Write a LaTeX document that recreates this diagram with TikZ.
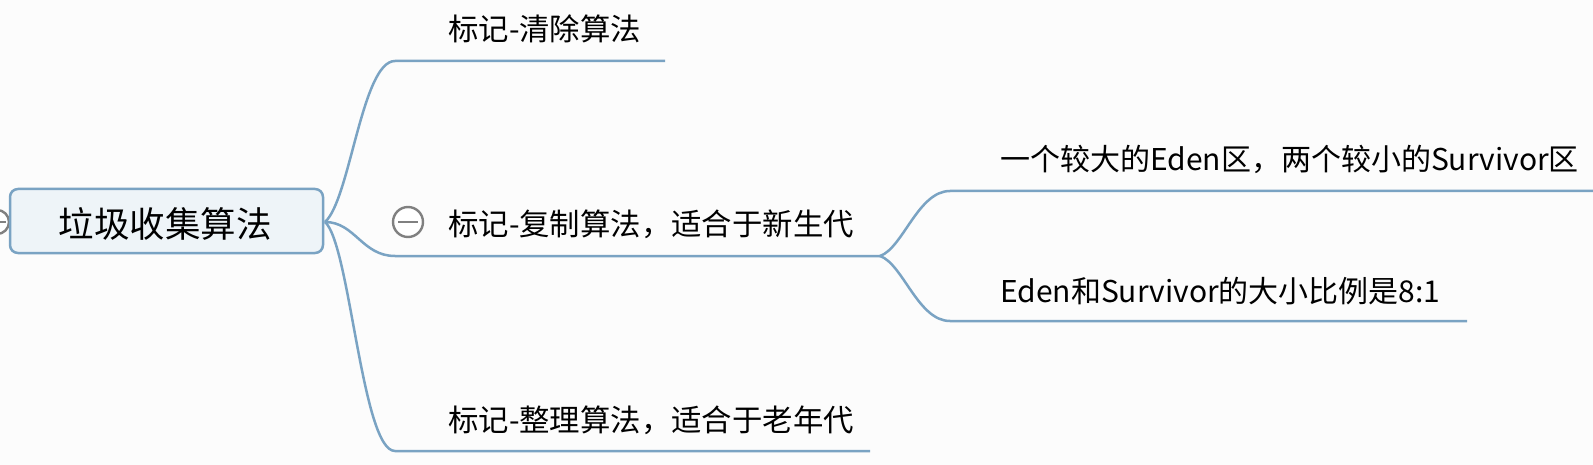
\documentclass[tikz,border=0pt]{standalone}
\usepackage{fontspec}
\setmainfont{Noto Sans CJK SC}
\begin{document}
\begin{tikzpicture}[x=1pt,y=-1pt,
  conn/.style={draw=lineblue,line width=2.5pt},
  branchtext/.style={anchor=base west,inner sep=0pt,font=\fontsize{30.4}{34}\selectfont,text=black},
  subtext/.style={anchor=base west,inner sep=0pt,font=\fontsize{30}{34}\selectfont,text=black},
  collapse/.style={draw=grey80,line width=2.4pt,fill=white}]
\definecolor{lineblue}{HTML}{7AA3C3}
\definecolor{boxfill}{HTML}{EEF4F8}
\definecolor{grey80}{HTML}{808080}
\definecolor{bg}{HTML}{FCFCFC}
\useasboundingbox (0,0) rectangle (1593,465);
\fill[bg] (0,0) rectangle (1593,465);
% left collapse mark
\draw[collapse] (-3,222) circle[radius=12];
\draw[grey80,line width=2.4pt] (-12,222) -- (6,222);
% root
\node[draw=lineblue,line width=2.5pt,fill=boxfill,rounded corners=8pt,
  minimum width=313pt,minimum height=64pt,inner sep=0pt] (root) at (166.5,221) {};
\node[anchor=base,inner sep=0pt,font=\fontsize{35.5}{40}\selectfont] (roottext) at (165,238) {垃圾收集算法};
\coordinate (R) at (325,222);
% branch 1
\node[branchtext] (b1) at (448,41) {标记-清除算法};
\coordinate (b1s) at (395,61);
\coordinate (b1e) at (665,61);
\draw[conn] (R) .. controls (350,200) and (362,61) .. (b1s) -- (b1e);
% branch 2
\node[branchtext] (b2) at (448,236) {标记-复制算法，适合于新生代};
\coordinate (b2s) at (395,256);
\coordinate (J) at (880,256);
\draw[conn] (R) .. controls (355,222) and (362,256) .. (b2s) -- (J);
\draw[collapse] (408,222) circle[radius=15];
\draw[grey80,line width=2.4pt] (398,222) -- (418,222);
% branch 3
\node[branchtext] (b3) at (448,431) {标记-整理算法，适合于老年代};
\coordinate (b3s) at (395,451);
\coordinate (b3e) at (870,451);
\draw[conn] (R) .. controls (350,244) and (362,451) .. (b3s) -- (b3e);
% sub-branches
\node[subtext] (s1) at (1000,171) {一个较大的Eden区，两个较小的Survivor区};
\coordinate (s1s) at (950,191);
\coordinate (s1e) at (1593,191);
\draw[conn] (J) .. controls (903,248) and (918,191) .. (s1s) -- (s1e);
\node[subtext] (s2) at (1000,302) {Eden和Survivor的大小比例是8:1};
\coordinate (s2s) at (950,321);
\coordinate (s2e) at (1467,321);
\draw[conn] (J) .. controls (903,264) and (918,321) .. (s2s) -- (s2e);
\end{tikzpicture}
\end{document}
